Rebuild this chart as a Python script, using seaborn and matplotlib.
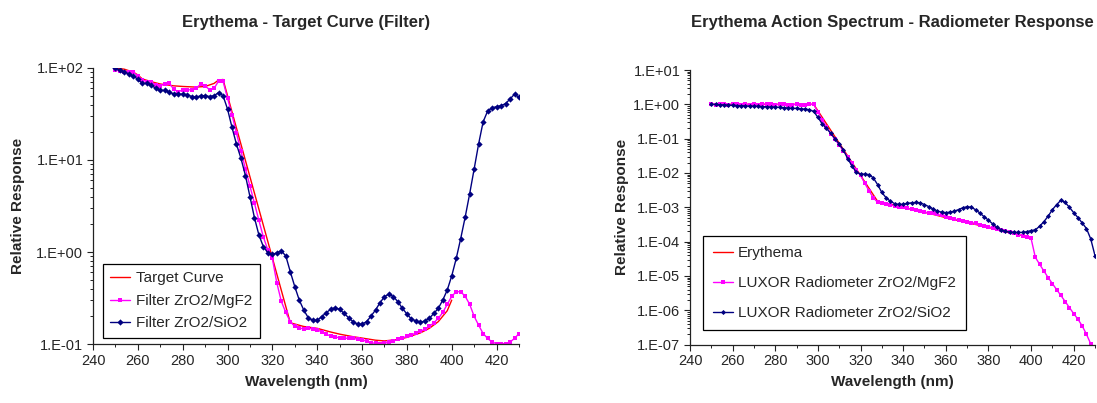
import numpy as np
import pandas as pd
import matplotlib
matplotlib.use("Agg")
import matplotlib.pyplot as plt
import matplotlib.ticker as mticker
import seaborn as sns

# ---------------- data ----------------
wl = list(range(250, 432, 2))          # 250 .. 430 nm, 2 nm step

# Left chart: Erythema - Target Curve (Filter)
target_wl = [250, 254, 258, 260, 262, 266, 270, 276, 280, 286, 290, 294, 296, 298,
             328, 334, 340, 346, 350, 356, 360, 366, 370, 376, 380, 386, 390, 394, 398, 400]
target_val = [100, 97, 90, 84, 76, 71, 67, 64, 63, 62, 63, 68, 74, 75,
              0.17, 0.155, 0.148, 0.135, 0.128, 0.12, 0.116, 0.11, 0.108, 0.112, 0.118, 0.132, 0.148, 0.175, 0.23, 0.3]

filter_mgf2 = [95, 93, 90, 91, 90, 82, 74, 71, 71, 65, 64, 67, 68, 59, 55, 58, 58, 58, 60, 67, 64, 58, 60, 72, 72,
               47, 31, 19.5, 12.5, 8, 5.2, 3.4, 2.2, 1.45, 1.05, 0.85, 0.46, 0.29, 0.22, 0.175,
               0.155, 0.148, 0.147, 0.148, 0.146, 0.142, 0.136, 0.128, 0.122, 0.119,
               0.117, 0.116, 0.115, 0.115, 0.113, 0.111, 0.107, 0.103, 0.102, 0.101, 0.102, 0.105, 0.108,
               0.112, 0.116, 0.121, 0.126, 0.131, 0.137, 0.145, 0.155, 0.17, 0.19, 0.22, 0.27,
               0.33, 0.37, 0.37, 0.33, 0.27, 0.2, 0.16, 0.13, 0.115, 0.105, 0.101, 0.101, 0.101, 0.105, 0.115, 0.13]

filter_sio2 = [99, 95, 90, 86, 82, 75, 68, 68, 65, 60, 57, 57, 55, 52, 52, 52, 51, 49, 48, 50, 50, 49, 50, 54, 50,
               35.8, 22.6, 14.8, 10.4, 6.76, 4.0, 2.36, 1.53, 1.14, 0.98, 0.94, 0.98, 1.03, 0.905, 0.61,
               0.42, 0.30, 0.234, 0.193, 0.181, 0.181, 0.198, 0.219, 0.238, 0.248,
               0.238, 0.215, 0.193, 0.175, 0.164, 0.164, 0.175, 0.201, 0.234, 0.281, 0.327, 0.349, 0.327,
               0.288, 0.244, 0.212, 0.187, 0.178, 0.172, 0.178, 0.19, 0.215, 0.244, 0.30, 0.386,
               0.55, 0.85, 1.4, 2.4, 4.3, 8, 15, 26, 34, 37, 38, 39, 41, 46, 52, 48]

# Right chart: Erythema Action Spectrum - Radiometer Response
ery_wl = [250, 298, 328, 330, 340, 350, 360, 370, 380, 390, 400]
ery_val = [1.0, 1.0, 0.0015, 0.0014, 0.001, 0.00072, 0.0005, 0.00036, 0.00026, 0.00018, 0.00013]

luxor_mgf2 = [1.05, 0.95, 1.0, 1.0, 0.97, 1.0, 1.02, 0.96, 1.0, 0.98, 1.0, 0.97, 1.0, 1.03, 1.02, 0.98, 1.0,
              1.02, 0.98, 0.97, 1.0, 0.98, 0.96, 1.0, 1.0,
              0.6, 0.36, 0.22, 0.14, 0.095, 0.065, 0.043, 0.03, 0.019, 0.012, 0.0085, 0.005, 0.003, 0.0019,
              0.0014, 0.0013, 0.00122, 0.00117, 0.0011, 0.00105, 0.001, 0.00094, 0.00088, 0.00082, 0.00077,
              0.00072, 0.00069, 0.00066, 0.00062, 0.00058, 0.00053, 0.00048, 0.00045, 0.00043, 0.0004,
              0.00038, 0.00036, 0.00034, 0.00031, 0.00029, 0.00027, 0.00025, 0.00024, 0.00022, 0.00021,
              0.00019, 0.00018, 0.00016, 0.00015, 0.00014,
              0.000125, 3.5e-5, 2.2e-5, 1.4e-5, 9e-6, 6e-6, 4e-6, 2.7e-6, 1.8e-6, 1.2e-6, 8e-7, 5.5e-7,
              3.5e-7, 2e-7, 1.05e-7]

luxor_sio2 = [1.0, 0.99, 0.97, 0.96, 0.95, 0.94, 0.92, 0.91, 0.9, 0.89, 0.88, 0.87, 0.86, 0.85, 0.84, 0.83,
              0.82, 0.8, 0.78, 0.77, 0.76, 0.74, 0.72, 0.7, 0.62,
              0.42, 0.27, 0.2, 0.145, 0.1, 0.07, 0.046, 0.026, 0.016, 0.0105, 0.0093, 0.0092, 0.009, 0.0072,
              0.0046, 0.0027, 0.0019, 0.0015, 0.00128, 0.00121, 0.00122, 0.0013, 0.00135, 0.00139, 0.00135,
              0.0012, 0.00105, 0.0009, 0.00078, 0.00072, 0.0007, 0.00072, 0.00077, 0.00086, 0.00097,
              0.00104, 0.001, 0.00085, 0.00068, 0.00053, 0.00042, 0.00033, 0.00026, 0.00022, 0.0002,
              0.00019, 0.000185, 0.000185, 0.000185, 0.000195,
              0.00021, 0.00022, 0.00028, 0.00038, 0.00055, 0.00085, 0.0012, 0.0016, 0.00138, 0.001,
              0.0007, 0.0005, 0.00035, 0.00024, 0.00012, 0.000039]

x_ticks = [240, 260, 280, 300, 320, 340, 360, 380, 400, 420]

RED = "#FF0000"
MAG = "#FF00FF"
NAVY = "#000080"

# ---------------- style ----------------
sns.set_style("ticks")
plt.rcParams["font.family"] = ["Liberation Sans", "DejaVu Sans"]

fig = plt.figure(figsize=(10.97, 4.03), dpi=100)
W, H = 1097, 403
axL = fig.add_axes([93 / W, 1 - 344 / H, (519 - 93) / W, (344 - 68) / H])
axR = fig.add_axes([690 / W, 1 - 344.6 / H, (1095 - 690) / W, (344.6 - 70) / H])


def sci_fmt(v, pos):
    if v <= 0:
        return ""
    e = int(round(np.log10(v)))
    return f"1.E{e:+03d}"


def style_axes(ax, ylim):
    ax.set_yscale("log")
    ax.set_xlim(240, 430)
    ax.set_ylim(*ylim)
    ax.set_xticks(x_ticks)
    ax.xaxis.set_minor_locator(mticker.MultipleLocator(10))
    ax.yaxis.set_major_locator(mticker.LogLocator(base=10, numticks=20))
    ax.yaxis.set_minor_locator(mticker.LogLocator(base=10, subs=np.arange(2, 10), numticks=20))
    ax.yaxis.set_major_formatter(mticker.FuncFormatter(sci_fmt))
    ax.yaxis.set_minor_formatter(mticker.NullFormatter())
    for s in ["top", "right"]:
        ax.spines[s].set_visible(False)
    for s in ["left", "bottom"]:
        ax.spines[s].set_color("#222222")
        ax.spines[s].set_linewidth(0.9)
    ax.tick_params(axis="both", which="major", labelsize=10.5, direction="out", length=4,
                   width=0.8, color="#222222", pad=3)
    ax.tick_params(axis="both", which="minor", direction="out", length=2.5, width=0.7, color="#222222")
    ax.set_xlabel("Wavelength (nm)", fontsize=11, fontweight="bold", labelpad=5)
    ax.set_ylabel("Relative Response", fontsize=11, fontweight="bold", labelpad=6)
    ax.grid(False)


# ---------------- left chart ----------------
sns.lineplot(x=target_wl, y=target_val, ax=axL, color=RED, linewidth=1.0, label="Target Curve")
sns.lineplot(x=wl, y=filter_mgf2, ax=axL, color=MAG, linewidth=1.0, marker="s", markersize=3.0,
             markeredgewidth=0, label="Filter ZrO2/MgF2")
sns.lineplot(x=wl, y=filter_sio2, ax=axL, color=NAVY, linewidth=1.0, marker="D", markersize=3.2,
             markeredgewidth=0, label="Filter ZrO2/SiO2")
style_axes(axL, (0.1, 100))
axL.yaxis.set_label_coords(-0.16, 0.5)

legL = axL.legend(loc="lower left", bbox_to_anchor=(0.023, 0.022), borderaxespad=0, fontsize=11,
                  frameon=True, fancybox=False, edgecolor="black", framealpha=1,
                  handlelength=1.3, handletextpad=0.35, labelspacing=0.55, borderpad=0.5)
legL.get_frame().set_linewidth(0.9)

# ---------------- right chart ----------------
sns.lineplot(x=ery_wl, y=ery_val, ax=axR, color=RED, linewidth=1.0, label="Erythema")
sns.lineplot(x=wl[:len(luxor_mgf2)], y=luxor_mgf2, ax=axR, color=MAG, linewidth=1.0, marker="s",
             markersize=2.6, markeredgewidth=0, label="LUXOR Radiometer ZrO2/MgF2")
sns.lineplot(x=wl, y=luxor_sio2, ax=axR, color=NAVY, linewidth=1.0, marker="D", markersize=2.6,
             markeredgewidth=0, label="LUXOR Radiometer ZrO2/SiO2")
style_axes(axR, (1e-7, 10))
axR.yaxis.set_label_coords(-0.15, 0.5)

legR = axR.legend(loc="lower left", bbox_to_anchor=(0.032, 0.053), borderaxespad=0, fontsize=11,
                  frameon=True, fancybox=False, edgecolor="black", framealpha=1,
                  handlelength=1.3, handletextpad=0.35, labelspacing=1.05, borderpad=0.65)
legR.get_frame().set_linewidth(0.9)

# ---------------- titles ----------------
fig.text((93 + 519) / 2 / W, 1 - 22 / H, "Erythema - Target Curve (Filter)", ha="center", va="center",
         fontsize=12, fontweight="bold")
fig.text((690 + 1095) / 2 / W, 1 - 22 / H, "Erythema Action Spectrum - Radiometer Response",
         ha="center", va="center", fontsize=12, fontweight="bold")

fig.savefig("out.png", dpi=100, facecolor="white")
